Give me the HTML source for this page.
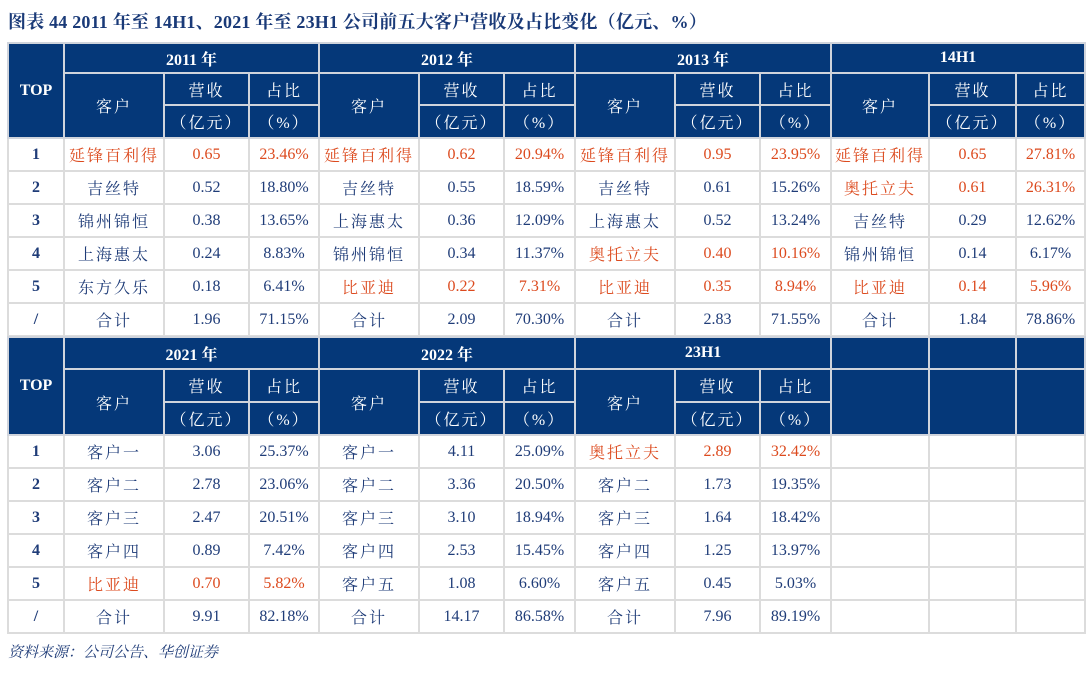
<!DOCTYPE html>
<html><head><meta charset="utf-8">
<style>
body{margin:0;width:1091px;height:674px;background:#fff;position:relative;overflow:hidden;font-family:"Liberation Serif","Noto Serif CJK SC",serif;}
#title{position:absolute;left:8px;top:8px;font-size:18px;font-weight:bold;color:#1a3a78;white-space:nowrap;letter-spacing:0.2px}
table{position:absolute;left:7px;border-collapse:collapse;table-layout:fixed;width:1077px}
td{border:2px solid #dcdcdc;text-align:center;padding:0;font-size:16px;color:#1f3c78;white-space:nowrap;overflow:hidden}
td.h{background:#053879;color:#fff;font-weight:bold;border-color:#d0d4dc}
td.hs{background:#053879;color:#fff;border-color:#d0d4dc;font-size:16px;letter-spacing:2px}
td.t{font-weight:bold}
td.c{letter-spacing:2px}
.r{color:#dc4a1e}
#src{position:absolute;left:8px;top:641px;font-size:15px;font-style:italic;color:#1f3c78;font-family:"Liberation Serif","Noto Serif CJK SC",serif}
</style></head><body>
<div id="title">图表 44 2011 年至 14H1、2021 年至 23H1 公司前五大客户营收及占比变化（亿元、%）</div>
<table id="t1" style="top:42px"></table>
<table id="t2" style="top:336px"></table>
<div id="src">资料来源：公司公告、华创证券</div>
<script>
const widths=[56,100,85,70,100,85,71,100,85,71,98,87,69];
const periods1=["2011 年","2012 年","2013 年","14H1"];
const periods2=["2021 年","2022 年","23H1",""];
const ranks=["1","2","3","4","5","/"];
// each cell: [customer, revenue, share, red]
const data1=[
 [["延锋百利得","0.65","23.46%",1],["延锋百利得","0.62","20.94%",1],["延锋百利得","0.95","23.95%",1],["延锋百利得","0.65","27.81%",1]],
 [["吉丝特","0.52","18.80%",0],["吉丝特","0.55","18.59%",0],["吉丝特","0.61","15.26%",0],["奥托立夫","0.61","26.31%",1]],
 [["锦州锦恒","0.38","13.65%",0],["上海惠太","0.36","12.09%",0],["上海惠太","0.52","13.24%",0],["吉丝特","0.29","12.62%",0]],
 [["上海惠太","0.24","8.83%",0],["锦州锦恒","0.34","11.37%",0],["奥托立夫","0.40","10.16%",1],["锦州锦恒","0.14","6.17%",0]],
 [["东方久乐","0.18","6.41%",0],["比亚迪","0.22","7.31%",1],["比亚迪","0.35","8.94%",1],["比亚迪","0.14","5.96%",1]],
 [["合计","1.96","71.15%",0],["合计","2.09","70.30%",0],["合计","2.83","71.55%",0],["合计","1.84","78.86%",0]]
];
const data2=[
 [["客户一","3.06","25.37%",0],["客户一","4.11","25.09%",0],["奥托立夫","2.89","32.42%",1],null],
 [["客户二","2.78","23.06%",0],["客户二","3.36","20.50%",0],["客户二","1.73","19.35%",0],null],
 [["客户三","2.47","20.51%",0],["客户三","3.10","18.94%",0],["客户三","1.64","18.42%",0],null],
 [["客户四","0.89","7.42%",0],["客户四","2.53","15.45%",0],["客户四","1.25","13.97%",0],null],
 [["比亚迪","0.70","5.82%",1],["客户五","1.08","6.60%",0],["客户五","0.45","5.03%",0],null],
 [["合计","9.91","82.18%",0],["合计","14.17","86.58%",0],["合计","7.96","89.19%",0],null]
];
function cell(tr,txt,cls,name,attrs){
 const td=document.createElement('td');
 td.textContent=txt;if(cls)td.className=cls;
 
 
 if(attrs)for(const k in attrs)td.setAttribute(k,attrs[k]);
 tr.appendChild(td);return td;
}
function build(id,periods,data,hh,isSecond){
 const t=document.getElementById(id);
 const cg=document.createElement('colgroup');
 widths.forEach(w=>{const c=document.createElement('col');c.style.width=w+'px';cg.appendChild(c);});
 t.appendChild(cg);
 let tr=document.createElement('tr');tr.style.height=hh[0]+'px';t.appendChild(tr);
 cell(tr,"TOP","h","top-header",{rowspan:3});
 periods.forEach((p,i)=>{
  if(isSecond&&p===""){for(let k=0;k<3;k++)cell(tr,"","h","empty-header",{rowspan:k==0?1:1});}
  else cell(tr,p,"h","period-header",{colspan:3});
 });
 tr=document.createElement('tr');tr.style.height=hh[1]+'px';t.appendChild(tr);
 periods.forEach(p=>{
  if(isSecond&&p===""){cell(tr,"","hs","empty-header",{rowspan:2});cell(tr,"","hs","empty-header",{rowspan:2});cell(tr,"","hs","empty-header",{rowspan:2});}
  else{cell(tr,"客户","hs","customer-header",{rowspan:2});cell(tr,"营收","hs","revenue-header");cell(tr,"占比","hs","share-header");}
 });
 tr=document.createElement('tr');tr.style.height=hh[2]+'px';t.appendChild(tr);
 periods.forEach(p=>{
  if(!(isSecond&&p==="")){cell(tr,"（亿元）","hs","revenue-unit");cell(tr,"（%）","hs","share-unit");}
 });
 data.forEach((row,ri)=>{
  const r=document.createElement('tr');r.style.height='33px';t.appendChild(r);
  cell(r,ranks[ri],"t","rank-cell");
  row.forEach(g=>{
   if(!g){cell(r,"","","empty-cell");cell(r,"","","empty-cell");cell(r,"","","empty-cell");return;}
   const rc=g[3]?" r":"";
   cell(r,g[0],"c"+rc,"customer-cell");
   cell(r,g[1],rc.trim(),"revenue-cell");
   cell(r,g[2],rc.trim(),"share-cell");
  });
 });
}
build('t1',periods1,data1,[30,32,33],false);
build('t2',periods2,data2,[32,33,33],true);
</script>
</body></html>
